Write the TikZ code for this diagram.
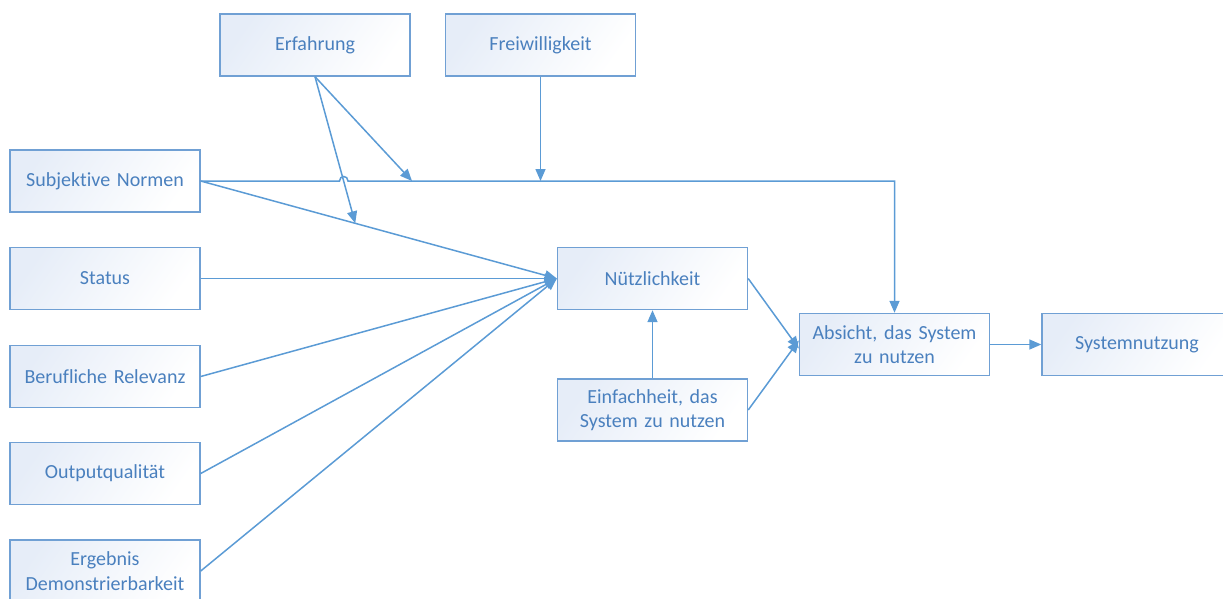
\documentclass[tikz,border=0pt]{standalone}
\usepackage{fontspec}
\setmainfont{Carlito}[Ligatures=NoCommon]
\usetikzlibrary{arrows.meta,calc}
\definecolor{txtblue}{RGB}{74,128,190}
\definecolor{boxline}{RGB}{112,160,212}
\definecolor{boxshade}{RGB}{230,237,248}
\definecolor{linkblue}{RGB}{91,155,213}
\begin{document}
\begin{tikzpicture}[x=1pt,y=-1pt,
  factor/.style={draw=boxline, line width=1.4pt, top color=boxshade, bottom color=white,
    shading angle=55, minimum width=190pt, minimum height=62pt, inner sep=0pt,
    text width=180pt, align=center, text=txtblue,
    font=\fontsize{20}{24.4}\selectfont},
  link/.style={draw=linkblue, line width=1.5pt},
  arr/.style={link, -{Triangle[length=12pt,width=10pt]}}]
\useasboundingbox (0,0) rectangle (1223,598);

% factor boxes
\node[factor] (erf)  at (315,45)   {Erfahrung};
\node[factor] (frei) at (540.5,45) {Freiwilligkeit};
\node[factor] (sn)   at (105,181)  {Subjektive Normen};
\node[factor] (stat) at (105,278.5) {Status};
\node[factor] (ber)  at (105,376.5) {Berufliche Relevanz};
\node[factor] (out)  at (105,473.5) {Outputqualität};
\node[factor] (erg)  at (105,571)  {Ergebnis\\Demonstrierbarkeit};
\node[factor] (nutz) at (652.5,278.5) {Nützlichkeit};
\node[factor] (einf) at (652.5,410) {Einfachheit, das\\System zu nutzen};
\node[factor] (abs)  at (894.5,344.5) {Absicht, das System\\zu nutzen};
\node[factor] (sys)  at (1137,344.5) {Systemnutzung};

% points on connectors where the moderators act
\coordinate (hopA) at (339.5,181);
\coordinate (hopB) at (348,181);
\coordinate (modE) at (412,181);
\coordinate (modS) at ($(sn.east)!0.434!(nutz.west)$);
\coordinate (modF) at (frei.south |- sn.east);

% subjective norms straight to intention, hopping over the experience link
\draw[arr] (sn.east) -- (hopA) .. controls (339.5,175) and (348,175) .. (hopB) -| (abs.north);

% determinants of perceived usefulness
\draw[arr] (sn.east)   -- (nutz.west);
\draw[arr] (stat.east) -- (nutz.west);
\draw[arr] (ber.east)  -- (nutz.west);
\draw[arr] (out.east)  -- (nutz.west);
\draw[arr] (erg.east)  -- (nutz.west);
\draw[arr] (einf.north) -- (nutz.south);

% moderators
\draw[arr] (erf.south) -- (modE);
\draw[arr] (erf.south) -- (modS);
\draw[arr] (frei.south) -- (modF);

% intention and usage
\draw[arr] (nutz.east) -- ([yshift=-4pt]abs.west);
\draw[arr] (einf.east) -- ([yshift=4pt]abs.west);
\draw[arr] (abs.east) -- (sys.west);
\end{tikzpicture}
\end{document}
